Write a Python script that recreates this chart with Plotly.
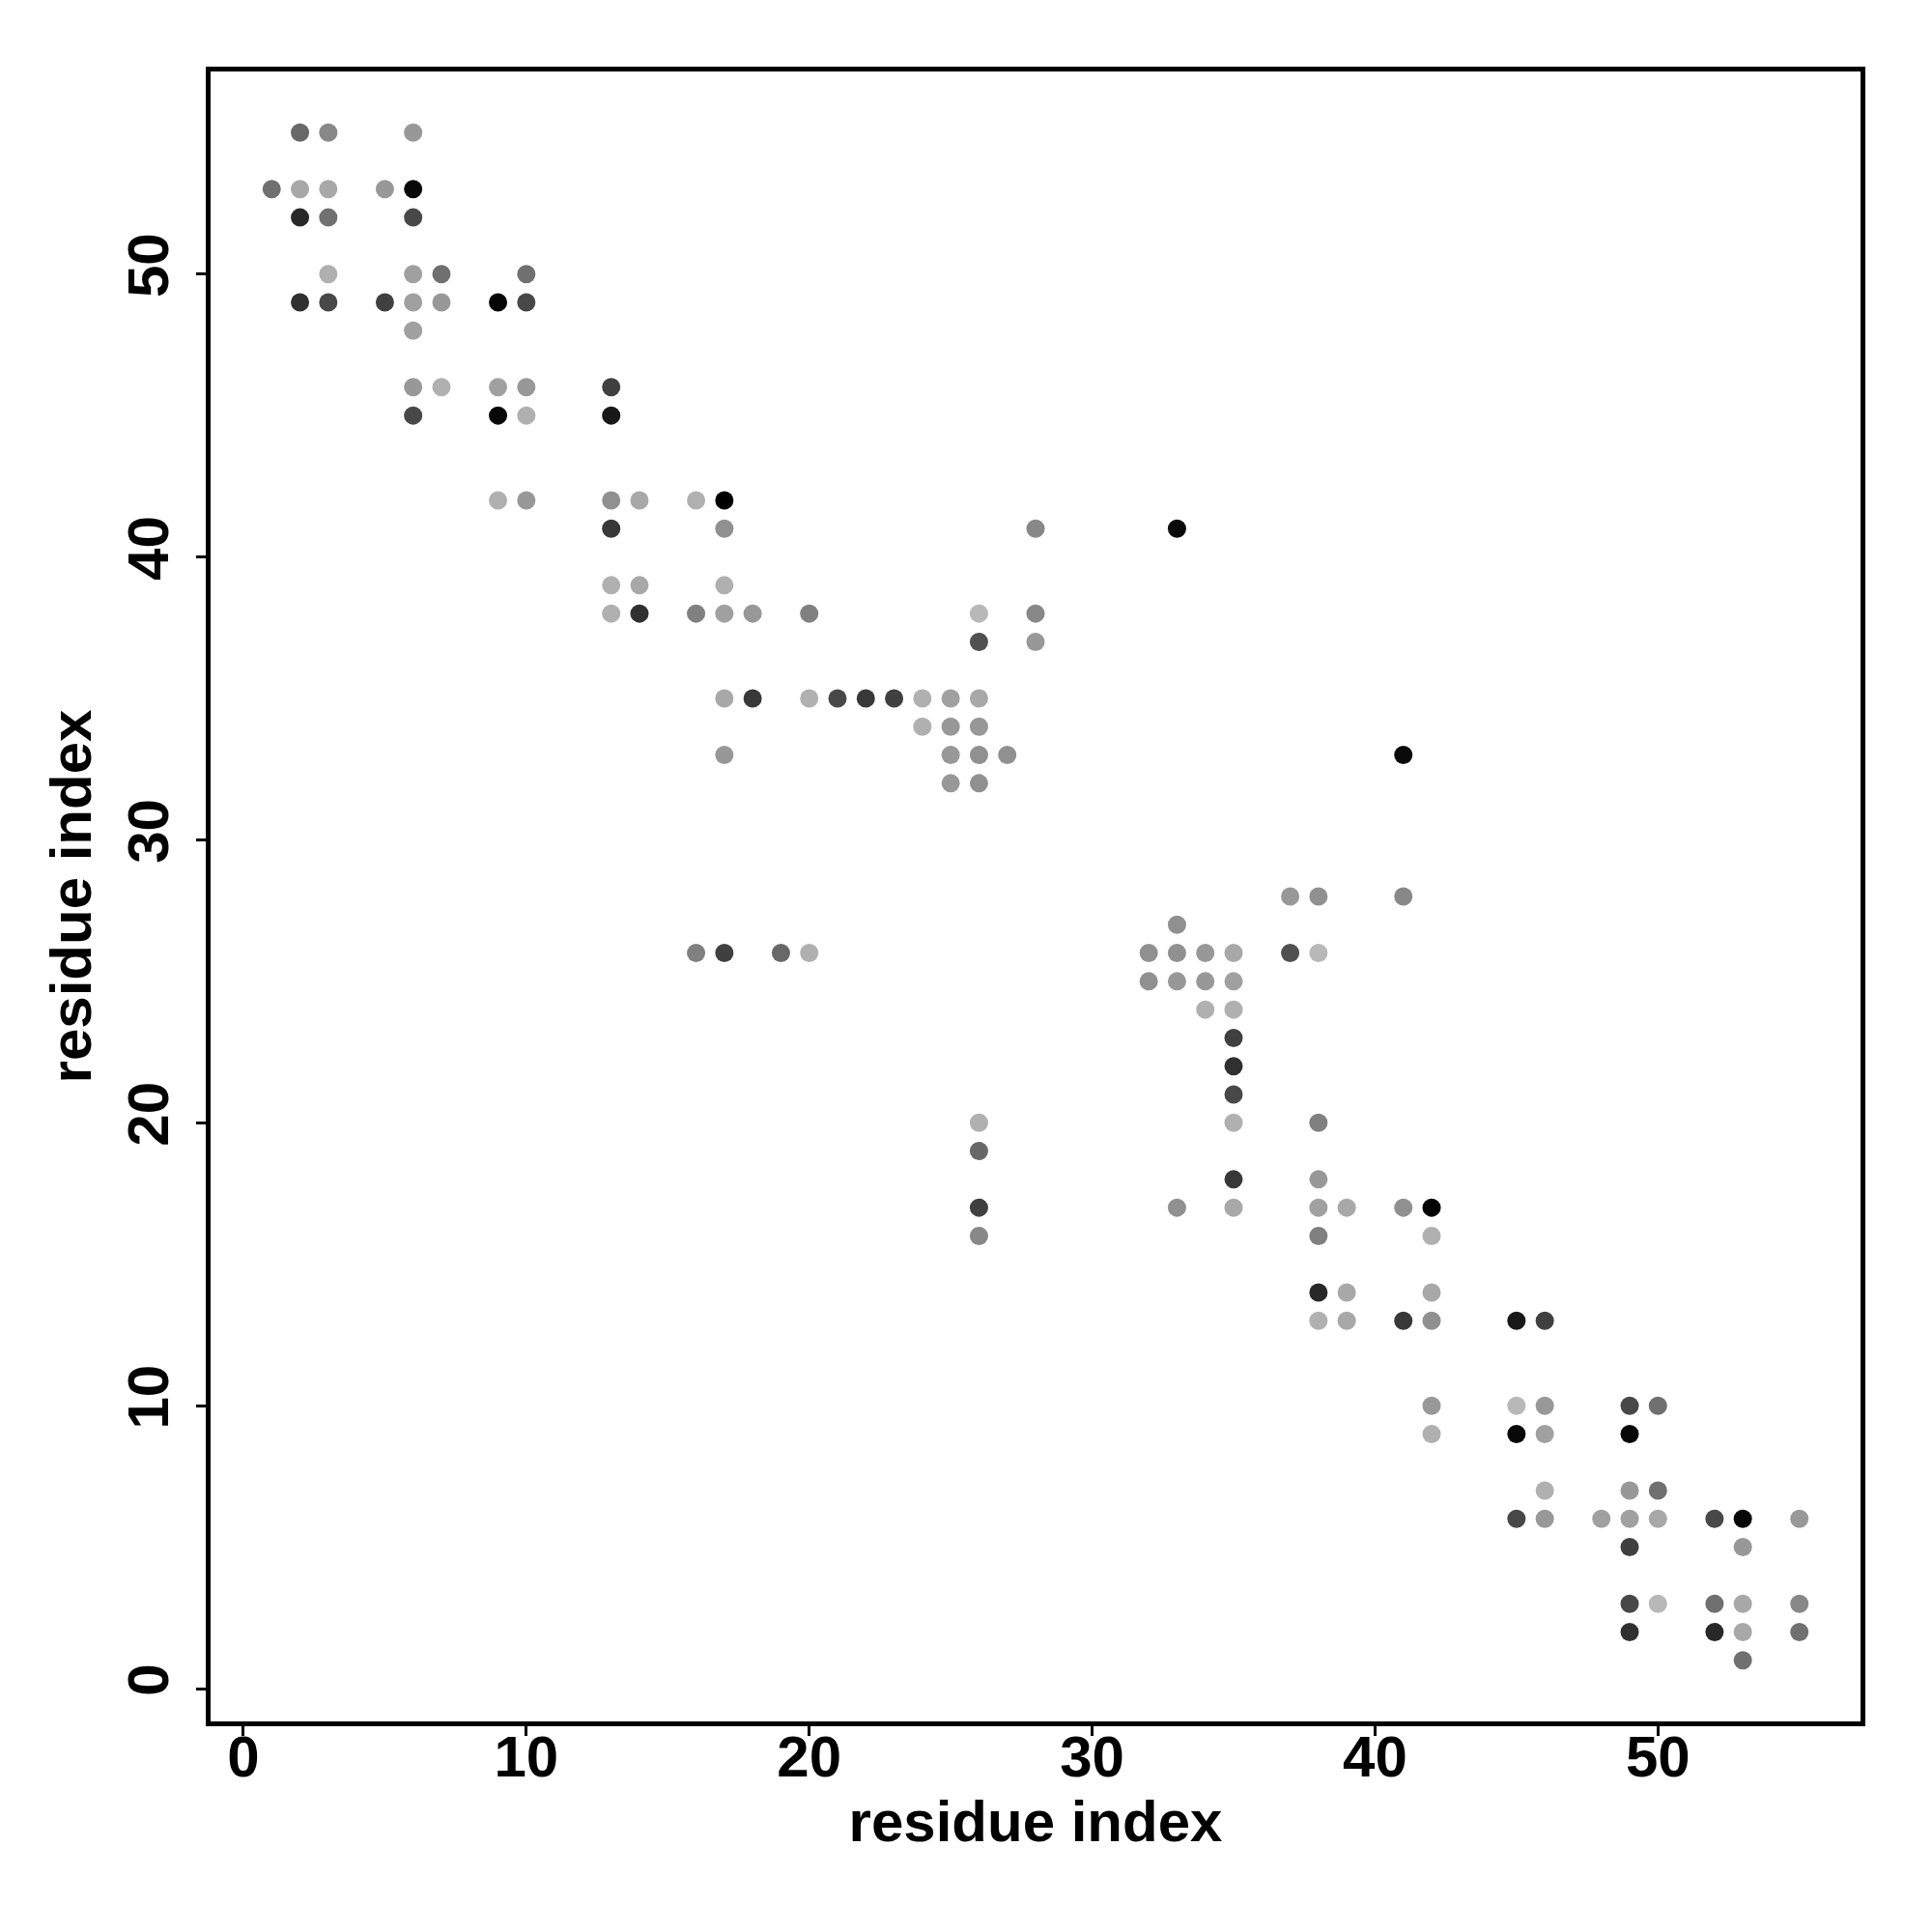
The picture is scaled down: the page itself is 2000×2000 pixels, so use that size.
import plotly.graph_objects as go

# contact map points: residue i (x), residue j (y), gray level (0=black, 255=white)
x_res = [2, 3, 6,
         1, 2, 3, 5, 6,
         2, 3, 6,
         3, 6, 7, 10,
         2, 3, 5, 6, 7, 9, 10,
         6,
         6, 7, 9, 10, 13,
         6, 9, 10, 13,
         9, 10, 13, 14, 16, 17,
         13, 17, 28, 33,
         13, 14, 17,
         13, 14, 16, 17, 18, 20, 26, 28,
         26, 28,
         17, 18, 20, 21, 22, 23, 24, 25, 26,
         24, 25, 26,
         17, 25, 26, 27, 41,
         25, 26,
         37, 38, 41,
         33,
         16, 17, 19, 20, 32, 33, 34, 35, 37, 38,
         32, 33, 34, 35,
         34, 35,
         35,
         35,
         35,
         26, 35, 38,
         26,
         35, 38,
         26, 33, 35, 38, 39, 41, 42,
         26, 38, 42,
         38, 39, 42,
         38, 39, 41, 42, 45, 46,
         42, 45, 46, 49, 50,
         42, 45, 46, 49,
         46, 49, 50,
         45, 46, 48, 49, 50, 52, 53, 55,
         49, 53,
         49, 50, 52, 53, 55,
         49, 52, 53, 55,
         53]
y_res = [55, 55, 55,
         53, 53, 53, 53, 53,
         52, 52, 52,
         50, 50, 50, 50,
         49, 49, 49, 49, 49, 49, 49,
         48,
         46, 46, 46, 46, 46,
         45, 45, 45, 45,
         42, 42, 42, 42, 42, 42,
         41, 41, 41, 41,
         39, 39, 39,
         38, 38, 38, 38, 38, 38, 38, 38,
         37, 37,
         35, 35, 35, 35, 35, 35, 35, 35, 35,
         34, 34, 34,
         33, 33, 33, 33, 33,
         32, 32,
         28, 28, 28,
         27,
         26, 26, 26, 26, 26, 26, 26, 26, 26, 26,
         25, 25, 25, 25,
         24, 24,
         23,
         22,
         21,
         20, 20, 20,
         19,
         18, 18,
         17, 17, 17, 17, 17, 17, 17,
         16, 16, 16,
         14, 14, 14,
         13, 13, 13, 13, 13, 13,
         10, 10, 10, 10, 10,
         9, 9, 9, 9,
         7, 7, 7,
         6, 6, 6, 6, 6, 6, 6, 6,
         5, 5,
         3, 3, 3, 3, 3,
         2, 2, 2, 2,
         1]
gray = [0x68, 0x88, 0x98,
        0x70, 0xa8, 0xa8, 0x98, 0x08,
        0x28, 0x70, 0x48,
        0xb0, 0xa0, 0x70, 0x70,
        0x30, 0x48, 0x40, 0xa0, 0x98, 0x05, 0x48,
        0xa0,
        0x98, 0xb0, 0xa0, 0x98, 0x40,
        0x48, 0x08, 0xb0, 0x18,
        0xb0, 0x98, 0x90, 0xa8, 0xb0, 0x00,
        0x38, 0x90, 0x88, 0x0a,
        0xb0, 0xa8, 0xb0,
        0xb0, 0x30, 0x80, 0xa0, 0x98, 0x80, 0xb8, 0x88,
        0x50, 0x98,
        0xa8, 0x38, 0xb0, 0x48, 0x38, 0x40, 0xb0, 0xa0, 0xa8,
        0xb0, 0x98, 0x98,
        0x98, 0x98, 0x90, 0x90, 0x0a,
        0x98, 0x90,
        0x98, 0x90, 0x88,
        0x90,
        0x80, 0x40, 0x68, 0xb0, 0x90, 0x90, 0x98, 0xa8, 0x50, 0xb8,
        0x90, 0x98, 0x98, 0xa0,
        0xb0, 0xb0,
        0x40,
        0x30,
        0x48,
        0xb0, 0xb0, 0x80,
        0x68,
        0x38, 0x98,
        0x40, 0x90, 0xa8, 0xa0, 0xa8, 0x90, 0x00,
        0x88, 0x80, 0xb0,
        0x28, 0xa8, 0xa8,
        0xb0, 0xa8, 0x38, 0x90, 0x18, 0x40,
        0x98, 0xb8, 0x98, 0x48, 0x70,
        0xb0, 0x08, 0xa0, 0x08,
        0xb0, 0x98, 0x70,
        0x48, 0x98, 0xa0, 0xa0, 0xa8, 0x48, 0x08, 0x98,
        0x40, 0x98,
        0x48, 0xb8, 0x70, 0xa8, 0x88,
        0x30, 0x28, 0xa8, 0x70,
        0x70]

tick_vals = [0, 10, 20, 30, 40, 50]
axis_title = "residue index"

colors = [f"rgb({g},{g},{g})" for g in gray]

fig = go.Figure(go.Scatter(
    x=x_res, y=y_res, mode="markers",
    marker=dict(size=19, color=colors, line=dict(width=0)),
    showlegend=False,
))

font = dict(family="Liberation Sans", size=60, color="black", weight="bold")
axis_common = dict(
    showgrid=False, zeroline=False,
    showline=True, linecolor="black", linewidth=5, mirror=True,
    ticks="outside", ticklen=10, tickwidth=3, tickcolor="black",
    tickvals=tick_vals, tickfont=font,
    title=dict(text=axis_title, font=font),
)

fig.update_xaxes(range=[-1.16, 57.16], ticklabelstandoff=-30, title_standoff=10, **axis_common)
fig.update_yaxes(range=[-1.16, 57.16], tickangle=-90, ticklabelstandoff=5,
                 title_standoff=8, **axis_common)

# page body has an 8px margin, so shift the plot area back by 8px
fig.update_layout(
    width=2000, height=2000,
    margin=dict(l=210, r=82, t=66, b=226),
    paper_bgcolor="white", plot_bgcolor="white",
)

fig.write_html("out.html")
